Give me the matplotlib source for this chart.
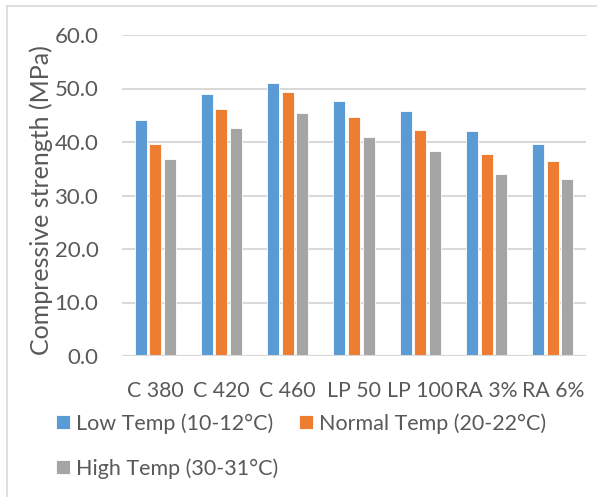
import matplotlib.pyplot as plt
import numpy as np
from matplotlib.lines import Line2D

plt.rcParams['font.family'] = ['Lato', 'DejaVu Sans']

mixes = ['C 380', 'C 420', 'C 460', 'LP 50', 'LP 100', 'RA 3%', 'RA 6%']
low_temp = [44.2, 49.0, 51.1, 47.7, 45.8, 42.1, 39.7]
normal_temp = [39.7, 46.2, 49.3, 44.7, 42.2, 37.8, 36.4]
high_temp = [36.8, 42.7, 45.5, 40.9, 38.3, 34.1, 33.0]

labels = ['Low Temp (10-12°C)', 'Normal Temp (20-22°C)', 'High Temp (30-31°C)']
colors = ['#5B9BD5', '#ED7D31', '#A5A5A5']

fig = plt.figure(figsize=(5.97, 4.97), dpi=100)
ax = fig.add_axes([122 / 597, 1 - 356 / 497, 464 / 597, 321 / 497])

x = np.arange(len(mixes))
w = 0.18
step = 0.22
for i, (vals, lab, c) in enumerate(zip([low_temp, normal_temp, high_temp], labels, colors)):
    ax.bar(x + (i - 1) * step, vals, w, color=c, edgecolor='white', linewidth=0.6,
           label=lab, zorder=3)

ax.set_xlim(-0.5, len(mixes) - 0.5)
ax.set_ylim(0, 60)
ax.set_yticks(np.arange(0, 61, 10))
ax.set_yticklabels([f'{v:.1f}' for v in np.arange(0, 61, 10)])
ax.set_xticks(x)
ax.set_xticklabels(mixes)
ax.tick_params(length=0, colors='#595959')
ax.tick_params(axis='y', labelsize=16, pad=17)
ax.tick_params(axis='x', labelsize=15.3, pad=18)
ax.grid(axis='y', color='#D9D9D9', linewidth=1.5, zorder=0)
for s in ax.spines.values():
    s.set_visible(False)
ax.axhline(0, color='#D9D9D9', linewidth=1.5, zorder=4)
ax.set_ylabel('Compressive strength (MPa)', fontsize=18, color='#595959')
ax.yaxis.set_label_coords(-0.149, 0.486)

handles, labs = ax.get_legend_handles_labels()
order = [0, 2, 1]
fig.legend([handles[i] for i in order], [labs[i] for i in order],
           loc='upper left', bbox_to_anchor=(56 / 597, 1 - 413 / 497), ncol=2,
           frameon=False, fontsize=15.5, labelcolor='#595959',
           borderpad=0, borderaxespad=0,
           handlelength=0.64, handleheight=0.64, handletextpad=0.3,
           columnspacing=0.95, labelspacing=1.15)

# chart area border (left and top edges visible)
fig.add_artist(Line2D([7 / 597, 7 / 597], [0, 1 - 6 / 497], color='#D9D9D9', lw=1.2,
                      transform=fig.transFigure))
fig.add_artist(Line2D([7 / 597, 1], [1 - 6 / 497, 1 - 6 / 497], color='#D9D9D9', lw=1.2,
                      transform=fig.transFigure))

fig.savefig('out.png', dpi=100)
